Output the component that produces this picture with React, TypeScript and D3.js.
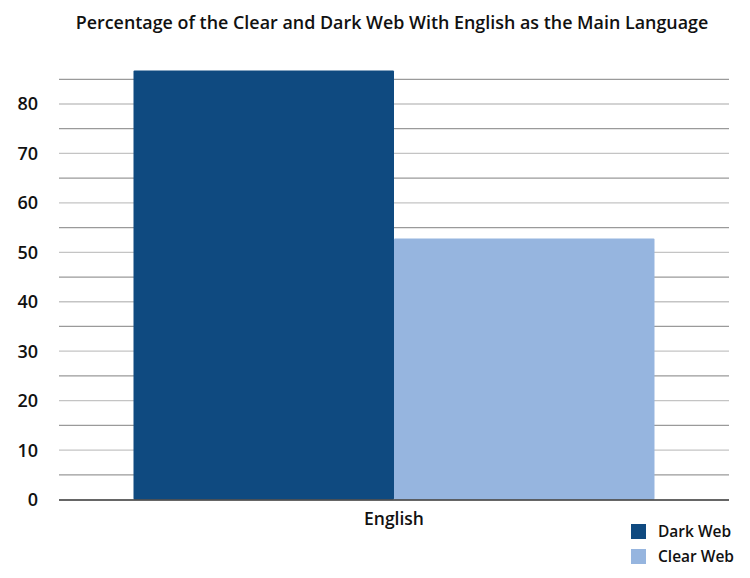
import React from 'react';
import * as d3 from 'd3';

const categories = ['English'];
const seriesNames = ['Dark Web', 'Clear Web'];
const darkWeb = [86.8];
const clearWeb = [52.8];
const yTicks = [0, 10, 20, 30, 40, 50, 60, 70, 80];
const minorTicks = [5, 15, 25, 35, 45, 55, 65, 75, 85];

const colors = ['#0f4a80', '#96b5df'];
const font = "'Open Sans', 'Noto Sans', sans-serif";

const W = 750;
const H = 578;
const margin = { top: 60, right: 21, bottom: 78, left: 59 };

const App: React.FC = () => {
  const x = d3.scaleBand<string>()
    .domain(categories)
    .range([margin.left, W - margin.right])
    .paddingInner(0)
    .paddingOuter(0.143);

  const x1 = d3.scaleBand<string>()
    .domain(seriesNames)
    .range([0, x.bandwidth()]);

  const y = d3.scaleLinear().domain([0, 80]).range([499.5, 104]);

  const values = [darkWeb, clearWeb];

  return (
    <svg width={W} height={H} style={{ display: 'block', position: 'absolute', left: 0, top: 0 }}>
      <rect width={W} height={H} fill="#ffffff" />
      <text x={392} y={29} textAnchor="middle" fontFamily={font} fontWeight={600} fontSize={17.9} fill="#111">
        Percentage of the Clear and Dark Web With English as the Main Language
      </text>

      {/* grid */}
      {minorTicks.map(t => (
        <line key={'m' + t} x1={margin.left} x2={W - margin.right} y1={y(t)} y2={y(t)} stroke="#9a9a9a" strokeWidth={1.3} />
      ))}
      {yTicks.filter(t => t > 0).map(t => (
        <line key={'g' + t} x1={margin.left} x2={W - margin.right} y1={y(t)} y2={y(t)} stroke="#c4c4c4" strokeWidth={1.3} />
      ))}

      {/* y labels */}
      {yTicks.map(t => (
        <text key={'l' + t} x={38} y={y(t)} dy="0.36em" textAnchor="end" fontFamily={font} fontWeight={600} fontSize={18} fill="#111">
          {t}
        </text>
      ))}

      {/* bars */}
      {categories.map((c, i) => (
        <g key={c} transform={`translate(${x(c)},0)`}>
          {seriesNames.map((s, j) => (
            <rect key={s} x={x1(s)} y={y(values[j][i])} width={x1.bandwidth()} height={y(0) - y(values[j][i])} fill={colors[j]} rx={1} />
          ))}
        </g>
      ))}

      {/* axis line */}
      <line x1={margin.left} x2={W - margin.right} y1={y(0) + 0.5} y2={y(0) + 0.5} stroke="#333" strokeWidth={1.5} />

      {/* x labels */}
      {categories.map(c => (
        <text key={c} x={(x(c) ?? 0) + x.bandwidth() / 2} y={525} textAnchor="middle" fontFamily={font} fontWeight={600} fontSize={17.5} fill="#111">
          {c}
        </text>
      ))}

      {/* legend */}
      {seriesNames.map((s, j) => (
        <g key={s} transform={`translate(631,${524 + j * 25})`}>
          <rect width={15} height={15} fill={colors[j]} />
          <text x={27} y={7.5} dy="0.36em" fontFamily={font} fontWeight={600} fontSize={15.5} fill="#111">{s}</text>
        </g>
      ))}
    </svg>
  );
};

export default App;
